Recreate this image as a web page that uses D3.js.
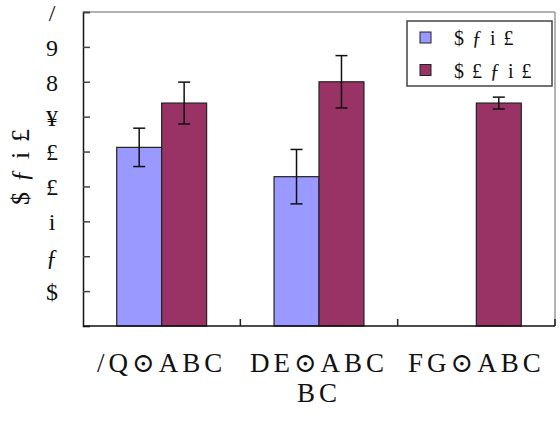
<!DOCTYPE html>
<html>
<head>
<meta charset="utf-8">
<script src="https://cdn.jsdelivr.net/npm/d3@7"></script>
<style>
  body { margin: 0; background: #fff; }
  text { font-family: "Liberation Serif", "DejaVu Serif", serif; fill: #111; }
</style>
</head>
<body>
<div id="chart"></div>
<script>
// data
const categories = ["/Q⊙ABC", "DE⊙ABC|BC", "FG⊙ABC"];
const seriesNames = ["$ƒi£", "$£ƒi£"];
const seriesA = [5.12, 4.28, 0];
const seriesB = [6.39, 7.0, 6.39];
const errA = [0.55, 0.78, 0];
const errB = [0.6, 0.75, 0.17];
const tickValues = [1, 2, 3, 4, 5, 6, 7, 8, 9];
const tickLabels = ["$", "ƒ", "i", "£", "£", "¥", "8", "9", "/"];
const yTitle = "$ƒi£";

const colors = ["#9999ff", "#993366"];

const W = 560, H = 442;
const margin = { top: 12, right: 5, bottom: 116, left: 83 };
const innerW = W - margin.left - margin.right;
const innerH = H - margin.top - margin.bottom;

const svg = d3.select("#chart").append("svg")
    .attr("width", W).attr("height", H);

const g = svg.append("g")
    .attr("transform", `translate(${margin.left},${margin.top})`);

const x = d3.scaleBand().domain(categories).range([0, innerW]);
const xSub = d3.scaleBand().domain([0, 1]).range([0, x.bandwidth()]).paddingOuter(0.75).paddingInner(0);
const y = d3.scaleLinear().domain([0, 9]).range([innerH, 0]);

// top / right frame
g.append("line").attr("x1", 0).attr("x2", innerW).attr("y1", 0).attr("y2", 0)
    .attr("stroke", "#999").attr("stroke-width", 1.5);
g.append("line").attr("x1", innerW).attr("x2", innerW).attr("y1", 0).attr("y2", innerH)
    .attr("stroke", "#999").attr("stroke-width", 1.5);

// bars
const rows = categories.map((c, i) => ({ c, vals: [seriesA[i], seriesB[i]], errs: [errA[i], errB[i]] }));

const grp = g.selectAll(".grp").data(rows).join("g")
    .attr("class", "grp")
    .attr("transform", d => `translate(${x(d.c)},0)`);

grp.selectAll("rect")
    .data(d => d.vals.map((v, k) => ({ v, k })).filter(e => e.v > 0))
    .join("rect")
    .attr("x", d => xSub(d.k))
    .attr("width", xSub.bandwidth())
    .attr("y", d => y(d.v))
    .attr("height", d => innerH - y(d.v))
    .attr("fill", d => colors[d.k])
    .attr("stroke", "#222")
    .attr("stroke-width", 1.2);

// error bars
const eb = grp.selectAll(".eb")
    .data(d => d.vals.map((v, k) => ({ v, k, e: d.errs[k] })).filter(e => e.v > 0))
    .join("g").attr("class", "eb")
    .attr("stroke", "#111").attr("stroke-width", 1.5);
const cx = d => xSub(d.k) + xSub.bandwidth() / 2;
eb.append("line").attr("x1", cx).attr("x2", cx)
    .attr("y1", d => y(d.v + d.e)).attr("y2", d => y(d.v - d.e));
eb.append("line").attr("x1", d => cx(d) - 6).attr("x2", d => cx(d) + 6)
    .attr("y1", d => y(d.v + d.e)).attr("y2", d => y(d.v + d.e));
eb.append("line").attr("x1", d => cx(d) - 6).attr("x2", d => cx(d) + 6)
    .attr("y1", d => y(d.v - d.e)).attr("y2", d => y(d.v - d.e));

// y axis
const yAxis = d3.axisLeft(y).tickValues(tickValues)
    .tickSize(-7).tickPadding(31)
    .tickFormat((d, i) => tickLabels[i]);
const ya = g.append("g").call(yAxis);
ya.select(".domain").attr("stroke", "#111").attr("stroke-width", 1.5);
ya.selectAll(".tick line").attr("stroke", "#444").attr("stroke-width", 1.5);
ya.selectAll(".tick text").attr("font-size", 24)
    .attr("font-family", "Liberation Serif, serif").attr("text-anchor", "middle").attr("dy", "0.35em");

// x axis
const bounds = d3.range(1, categories.length + 1).map(i => i * x.step());
g.append("line").attr("x1", 0).attr("x2", innerW).attr("y1", innerH).attr("y2", innerH)
    .attr("stroke", "#111").attr("stroke-width", 1.5);
g.selectAll(".xt").data(bounds).join("line")
    .attr("x1", d => d).attr("x2", d => d)
    .attr("y1", innerH).attr("y2", innerH - 7)
    .attr("stroke", "#222").attr("stroke-width", 1.5);

const xl = g.selectAll(".xl").data(categories).join("text")
    .attr("class", "xl")
    .attr("x", d => x(d) + x.bandwidth() / 2)
    .attr("y", innerH + 46)
    .attr("text-anchor", "middle")
    .attr("font-size", 27)
    .attr("letter-spacing", 4);
xl.selectAll("tspan").data(d => d.split("|")).join("tspan")
    .attr("x", function () { return d3.select(this.parentNode).attr("x"); })
    .attr("dy", (d, i) => i ? 30 : 0)
    .text(d => d);

// y title
svg.append("text")
    .attr("transform", `translate(29,${margin.top + 150}) rotate(-90)`)
    .attr("text-anchor", "middle")
    .attr("font-size", 26)
    .attr("letter-spacing", 10)
    .text(yTitle);

// legend
const lg = svg.append("g").attr("transform", "translate(407,21)");
lg.append("rect").attr("width", 145).attr("height", 65)
    .attr("fill", "#fff").attr("stroke", "#444").attr("stroke-width", 1.5);
const li = lg.selectAll(".li").data(seriesNames).join("g")
    .attr("transform", (d, i) => `translate(13,${11 + i * 32.5})`);
li.append("rect").attr("width", 11).attr("height", 11)
    .attr("fill", (d, i) => colors[i]).attr("stroke", "#222").attr("stroke-width", 1);
li.append("text").attr("x", 34).attr("y", 6).attr("dy", "0.35em")
    .attr("font-size", 20).attr("letter-spacing", 8)
    .text(d => d);
</script>
</body>
</html>
